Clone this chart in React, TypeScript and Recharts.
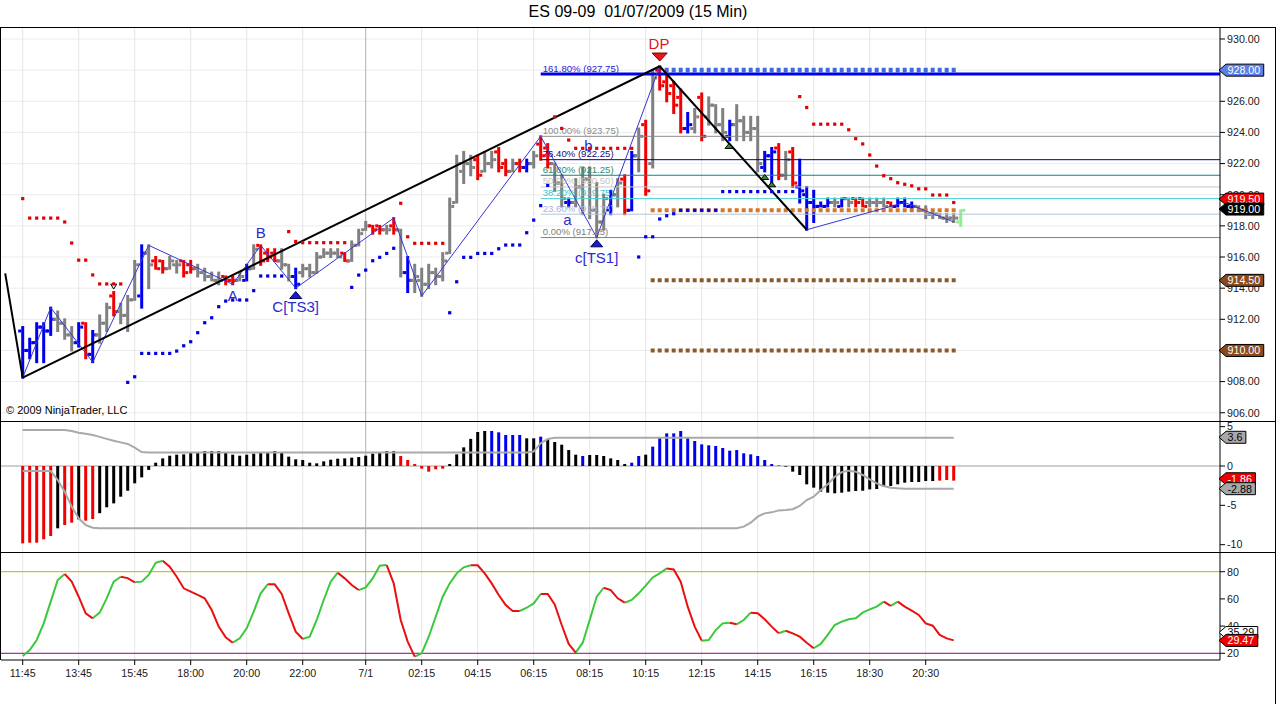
import React from 'react';
import { ComposedChart, Bar, Line, XAxis, YAxis, ReferenceLine, ReferenceDot, Cell } from 'recharts';

const FONT = "'Liberation Sans', Arial, sans-serif";

const chartTitle = 'ES 09-09  01/07/2009 (15 Min)';
const copyright = '\u00a9 2009 NinjaTrader, LLC';

const timeTicks = [0, 8, 16, 24, 32, 40, 49, 57, 65, 73, 81, 89, 97, 105, 113, 121, 129];
const timeLabels = ['11:45', '13:45', '15:45', '18:00', '20:00', '22:00', '7/1', '02:15', '04:15', '06:15', '08:15', '10:15', '12:15', '14:15', '16:15', '18:30', '20:30'];
const dayBreak = 49;

const priceTicks = [906, 908, 910, 912, 914, 916, 918, 920, 922, 924, 926, 928, 930];
const macdTicks = [5, 0, -5, -10];
const stochTicks = [20, 40, 60, 80];

const opens = [
  911.25, 910.0, 910.5, 911.5, 911.25, 912.0, 911.75, 911.0, 910.5, 911.75,
  909.75, 911.0, 911.75, 913.5, 912.5, 912.25, 913.25, 913.5, 916.25, 915.75,
  915.75, 915.25, 915.5, 915.75, 915.5, 915.25, 915.0, 914.75, 914.5, 914.75,
  914.5, 914.5, 914.5, 915.25, 916.75, 916.25, 916.25, 915.75, 915.5, 914.75,
  915.0, 915.25, 915.0, 916.0, 916.25, 916.25, 916.25, 915.75, 916.75, 917.75,
  918.0, 918.0, 917.75, 918.0, 917.75, 915.0, 914.5, 914.5, 914.25, 915.0,
  914.75, 916.25, 919.5, 921.5, 922.0, 922.25, 921.5, 922.0, 922.75, 922.0,
  921.5, 922.0, 921.75, 922.0, 923.25, 923.0, 922.0, 920.75, 919.5, 919.5,
  920.5, 921.0, 919.0, 918.25, 919.0, 920.0, 921.0, 919.0, 922.5, 924.5,
  922.0, 928.0, 927.25, 927.0, 926.25, 924.25, 924.25, 926.25, 925.0, 925.75,
  924.5, 923.75, 924.5, 924.75, 924.0, 924.25, 921.75, 922.5, 923.0, 921.25,
  922.75, 920.5, 920.0, 919.5, 919.25, 919.25, 919.5, 919.25, 919.75, 919.75,
  919.75, 919.5, 919.5, 919.5, 919.5, 919.25, 919.5, 919.25, 919.25, 919.0,
  918.75, 918.75, 918.5, 918.5, 918.25,
];
const highs = [
  911.5, 910.75, 911.75, 911.75, 912.75, 912.5, 912.0, 911.5, 911.75, 911.75,
  911.25, 912.25, 913.0, 913.75, 913.0, 913.5, 915.75, 916.75, 916.75, 916.0,
  915.75, 916.0, 915.75, 915.75, 915.75, 915.5, 915.25, 915.0, 915.0, 914.75,
  914.75, 915.0, 915.5, 916.75, 916.75, 916.5, 916.5, 916.5, 915.5, 915.25,
  915.5, 915.5, 916.25, 916.5, 916.5, 916.5, 916.25, 917.0, 917.75, 918.25,
  918.0, 918.0, 918.0, 918.5, 917.75, 916.0, 915.5, 915.25, 915.5, 915.25,
  916.25, 919.75, 922.5, 922.75, 922.5, 922.5, 922.75, 922.75, 923.0, 922.25,
  922.25, 922.25, 922.25, 922.75, 923.75, 923.25, 922.0, 921.25, 919.75, 921.0,
  921.75, 921.75, 920.75, 920.0, 920.25, 921.0, 921.25, 922.75, 924.25, 924.75,
  928.0, 928.25, 927.75, 927.25, 926.75, 925.25, 925.5, 926.5, 926.25, 925.75,
  925.5, 924.75, 925.75, 925.0, 925.0, 925.0, 922.75, 923.0, 923.25, 922.75,
  923.0, 922.25, 920.5, 920.25, 919.5, 919.75, 919.75, 919.75, 919.75, 919.75,
  919.75, 919.75, 919.75, 919.75, 919.5, 919.75, 919.75, 919.5, 919.25, 919.25,
  919.0, 918.75, 918.75, 918.75, 919.0,
];
const lows = [
  908.25, 909.5, 909.25, 909.25, 911.0, 911.25, 910.75, 910.0, 910.25, 909.5,
  909.25, 910.5, 911.25, 912.25, 911.75, 911.25, 913.25, 912.75, 914.0, 915.25,
  915.0, 915.25, 915.0, 914.75, 915.0, 914.75, 914.5, 914.5, 914.25, 914.25,
  914.25, 914.5, 914.5, 915.25, 915.5, 915.75, 915.75, 915.25, 914.5, 914.0,
  914.75, 914.75, 915.0, 916.0, 916.0, 916.0, 915.75, 915.75, 916.75, 917.75,
  917.5, 917.5, 917.5, 917.5, 914.75, 913.75, 913.75, 913.5, 914.0, 914.25,
  914.5, 916.25, 919.5, 920.75, 921.25, 921.0, 921.5, 921.75, 921.5, 921.25,
  921.5, 921.5, 921.5, 921.75, 922.25, 921.75, 920.25, 919.25, 919.25, 919.25,
  918.75, 918.5, 917.25, 917.75, 918.75, 919.25, 918.75, 919.0, 921.5, 920.0,
  921.75, 926.75, 926.0, 925.25, 924.0, 924.0, 924.0, 923.5, 924.5, 924.0,
  923.5, 923.5, 923.5, 923.5, 923.5, 921.5, 921.5, 920.75, 921.0, 921.0,
  920.5, 919.5, 917.75, 918.25, 919.25, 919.25, 919.25, 919.25, 919.25, 919.25,
  919.25, 919.25, 919.25, 919.25, 919.25, 919.25, 919.25, 919.0, 919.0, 918.5,
  918.5, 918.5, 918.25, 918.25, 918.0,
];
const closes = [
  910.0, 910.5, 911.5, 911.25, 912.0, 911.75, 911.0, 910.5, 911.5, 909.75,
  911.0, 911.75, 912.75, 912.5, 912.25, 913.25, 915.5, 916.25, 915.5, 915.25,
  915.25, 915.75, 915.5, 915.0, 915.25, 915.0, 914.75, 914.5, 914.5, 914.5,
  914.5, 914.75, 915.25, 916.5, 915.75, 916.0, 915.75, 915.5, 914.75, 914.25,
  915.25, 915.0, 916.0, 916.25, 916.25, 916.0, 915.75, 916.75, 917.5, 918.0,
  917.75, 917.75, 917.75, 917.75, 915.0, 914.5, 914.75, 914.25, 915.0, 914.75,
  915.75, 919.25, 922.0, 922.0, 921.75, 921.25, 922.0, 922.25, 921.75, 921.5,
  922.0, 921.75, 922.0, 922.5, 922.5, 922.0, 920.75, 919.75, 919.5, 920.5,
  921.0, 919.0, 918.25, 919.75, 920.0, 920.75, 919.0, 922.5, 923.75, 920.25,
  927.5, 927.0, 926.5, 925.75, 924.25, 924.5, 925.0, 923.75, 925.75, 924.5,
  924.0, 924.5, 924.75, 924.0, 924.25, 922.0, 922.5, 922.75, 921.25, 922.25,
  920.75, 920.25, 919.5, 919.25, 919.25, 919.5, 919.5, 919.75, 919.5, 919.5,
  919.25, 919.5, 919.5, 919.25, 919.25, 919.5, 919.25, 919.25, 919.0, 918.75,
  918.75, 918.5, 918.5, 918.5, 919.0,
];
// u = up trend bar, d = down trend bar, n = neutral, c = current (unfinished) bar
const barTrend = (
  'uuuuunnnud' + 'unndnnnund' + 'dnnddnnnnd' + 'dnundddnnu' + 'nnnnnndnnn' +
  'ddndnunnnn' + 'nnnnndnndd' + 'ndunddnnun' + 'nnnnundund' + 'nddddundnn' +
  'nunnnnuudn' + 'duuuuunund' + 'dnnnduuunn' + 'nnnnc'
).split('');

// trailing stop dots [bar index, price]
const upperStop: [number, number][] = [
  [0, 919.75], [1, 918.5], [2, 918.5], [3, 918.5], [4, 918.5], [5, 918.5], [6, 918.25], [7, 916.9],
  [8, 915.8], [9, 915.8], [10, 914.85], [11, 914.27], [12, 914.27], [13, 914.27], [14, 914.27],
  [38, 917.63], [39, 917.0], [40, 916.92], [41, 916.92], [42, 916.92], [43, 916.92], [44, 916.92], [45, 916.92], [46, 916.92],
  [54, 919.45], [55, 917.3], [56, 916.88], [57, 916.88], [58, 916.88], [59, 916.88], [60, 916.88],
  [76, 925.0], [77, 924.26], [78, 923.51], [79, 922.98], [80, 922.98], [81, 922.98], [82, 922.98], [83, 922.98],
  [84, 922.98], [85, 922.98], [86, 922.98], [87, 922.98],
  [111, 926.3], [112, 925.6], [113, 924.53], [114, 924.53], [115, 924.53], [116, 924.53], [117, 924.53],
  [118, 924.17], [119, 923.6], [120, 923.26], [121, 922.55], [122, 921.84], [123, 921.22], [124, 921.03],
  [125, 920.77], [126, 920.67], [127, 920.57], [128, 920.38], [129, 920.38], [130, 919.98], [131, 919.98],
  [132, 919.98], [133, 919.5],
];
const lowerStop: [number, number][] = [
  [15, 907.95], [16, 908.31], [17, 909.81], [18, 909.81], [19, 909.81], [20, 909.81], [21, 909.81],
  [22, 909.96], [23, 910.3], [24, 910.56], [25, 911.14], [26, 911.78], [27, 912.1], [28, 912.81],
  [29, 913.17], [30, 913.24], [31, 913.24], [32, 913.24], [33, 913.84], [34, 914.78], [35, 914.78],
  [36, 914.78], [37, 914.78],
  [47, 914.05], [48, 914.84], [49, 915.16], [50, 915.76], [51, 915.98], [52, 916.23], [53, 916.56],
  [61, 912.42], [62, 914.41], [63, 915.98], [64, 915.98], [65, 916.23], [66, 916.23], [67, 916.23],
  [68, 916.53], [69, 916.77], [70, 916.77], [71, 916.77], [72, 917.56], [73, 918.37], [74, 919.3], [75, 920.6],
  [88, 916.0], [89, 917.3], [90, 917.3], [91, 918.44], [92, 918.65], [93, 918.78], [94, 919.0], [95, 919.0],
  [96, 919.0], [97, 919.0], [98, 919.0], [99, 919.0], [100, 920.2], [101, 920.2], [102, 920.2], [103, 920.2],
  [104, 920.2], [105, 920.2], [106, 920.2], [107, 920.2], [108, 920.2], [109, 920.2], [110, 920.2],
];
const zigzagPivots: [number, number][] = [
  [0, 908.25], [4, 912.75], [10, 909.25], [18, 916.75], [30, 914.25], [34, 916.75], [39, 914.0],
  [53, 918.5], [57, 913.5], [74, 923.75], [82, 917.25], [91, 928.25], [112, 917.75], [126, 919.5], [133, 918.25],
];
const trendLines = [
  { from: [-2.5, 914.95], to: [0, 908.25] },
  { from: [0, 908.25], to: [91, 928.25] },
  { from: [91, 928.25], to: [112, 917.75] },
];
const fibStart = 74;
const fibLevels = [
  { pct: '161.80%', price: 927.75, line: '#0000f0', text: '#2323d8', width: 3 },
  { pct: '100.00%', price: 923.75, line: '#8c8c8c', text: '#8c8c8c', width: 1 },
  { pct: '76.40%', price: 922.25, line: '#000080', text: '#10107a', width: 1 },
  { pct: '61.80%', price: 921.25, line: '#008b8b', text: '#2e8b74', width: 1 },
  { pct: '50.00%', price: 920.5, line: '#c4c4c4', text: '#c4c4c4', width: 1 },
  { pct: '38.20%', price: 919.75, line: '#48d1d1', text: '#46c4cc', width: 1 },
  { pct: '23.60%', price: 918.75, line: '#b0c4de', text: '#a4b4da', width: 1 },
  { pct: '0.00%', price: 917.25, line: '#808080', text: '#808080', width: 1 },
];
const levelLines = [
  { price: 928.0, from: 92, to: 133, color: '#4169e1', width: 5 },
  { price: 919.0, from: 90, to: 133, color: '#d2782d', width: 4 },
  { price: 914.5, from: 90, to: 133, color: '#8b5a2b', width: 4 },
  { price: 910.0, from: 90, to: 133, color: '#8b5a2b', width: 4 },
];
const textMarks = [
  { i: 30, price: 913.55, text: 'A', color: '#2b2bd0' },
  { i: 34, price: 917.55, text: 'B', color: '#2b2bd0' },
  { i: 39, price: 912.8, text: 'C[TS3]', color: '#2b2bd0' },
  { i: 77.8, price: 918.4, text: 'a', color: '#2b2bd0' },
  { i: 80.8, price: 923.15, text: 'b', color: '#2b2bd0' },
  { i: 82, price: 915.98, text: 'c[TS1]', color: '#2b2bd0' },
  { i: 90.9, price: 929.72, text: 'DP', color: '#e01818' },
];
const triangleMarks = [
  { i: 39, price: 913.56, dir: 'up', w: 12, h: 7, fill: '#1a1ad0', stroke: '#00005a' },
  { i: 82, price: 916.88, dir: 'up', w: 12, h: 7, fill: '#1a1ad0', stroke: '#00005a' },
  { i: 91, price: 928.84, dir: 'down', w: 15, h: 8, fill: '#e81818', stroke: '#700000' },
  { i: 100.9, price: 923.13, dir: 'up', w: 8, h: 5, fill: '#2e8b2e', stroke: '#000' },
  { i: 106, price: 921.14, dir: 'up', w: 8, h: 5, fill: '#2e8b2e', stroke: '#000' },
  { i: 107, price: 920.67, dir: 'up', w: 8, h: 5, fill: '#2e8b2e', stroke: '#000' },
  { i: 13, price: 914.1, dir: 'down', w: 6, h: 5, fill: 'none', stroke: '#000' },
];
const priceBadges = [
  { pos: 928.0, text: '928.00', bg: '#5b7fe6', fg: '#ffffff' },
  { pos: 914.5, text: '914.50', bg: '#8b4a1e', fg: '#ffffff' },
  { pos: 910.0, text: '910.00', bg: '#8b4a1e', fg: '#ffffff' },
  { pos: 919.72, text: '919.50', bg: '#f00000', fg: '#ffffff' },
  { pos: 919.08, text: '919.00', bg: '#000000', fg: '#ffffff' },
];

const histogram = [
  -9.83, -9.75, -9.75, -9.32, -8.9, -7.92, -7.5, -7.2, -6.78, -6.95,
  -6.74, -6.0, -5.25, -4.75, -3.9, -3.14, -2.2, -1.44, -0.5, 0.42,
  0.97, 1.31, 1.44, 1.48, 1.65, 1.78, 1.9, 1.9, 1.9, 1.65,
  1.44, 1.31, 1.44, 1.57, 1.65, 1.78, 1.9, 1.78, 1.19, 0.85,
  0.76, 0.42, 0.34, 0.59, 0.8, 0.93, 0.97, 1.06, 1.14, 1.31,
  1.57, 1.74, 1.9, 1.9, 1.27, 0.76, 0.25, -0.34, -0.72, -0.42,
  -0.34, 0.25, 1.48, 2.37, 3.45, 4.32, 4.45, 4.45, 4.28, 3.94,
  3.94, 3.94, 3.52, 3.52, 3.73, 3.43, 3.05, 2.71, 2.03, 1.44,
  1.27, 1.4, 1.4, 1.27, 0.97, 0.76, 0.25, 0.42, 1.27, 1.44,
  2.46, 3.6, 4.15, 4.15, 4.45, 3.6, 3.18, 2.75, 2.63, 2.54,
  2.29, 1.95, 2.03, 1.61, 1.48, 1.27, 0.76, 0.25, 0.05, -0.08,
  -0.72, -1.14, -2.33, -2.75, -3.26, -3.39, -3.47, -3.39, -3.26, -3.18,
  -3.14, -2.97, -2.92, -2.63, -2.54, -2.33, -2.12, -2.03, -2.03, -1.91,
  -1.91, -1.86, -1.78, -1.86,
];
// r = red, k = black, b = blue histogram bars
const histState = (
  'rrrrrkrrkr' + 'rkkkkkkkkk' + 'kkkkkkkkkk' + 'kkkkkkkkkk' + 'kkkkkkkkkk' +
  'kkkkrrrrrr' + 'rkkkkkkbbb' + 'bbkkbkkkkk' + 'bkkkkkkbbk' + 'bbbbbbbbbb' +
  'bbbbbbbbkk' + 'kkkkkkkkkk' + 'kkkkkkkkkk' + 'krrr'
).split('');
const signalHigh = [
  4.58, 4.58, 4.58, 4.58, 4.58, 4.58, 4.58, 4.45, 4.24, 4.1,
  3.94, 3.7, 3.45, 3.22, 3.0, 2.8, 2.33, 1.78, 1.72, 1.72,
  1.72, 1.72, 1.72, 1.72, 1.72, 1.72, 1.72, 1.72, 1.72, 1.72,
  1.72, 1.72, 1.72, 1.72, 1.72, 1.72, 1.72, 1.72, 1.72, 1.72,
  1.72, 1.72, 1.72, 1.72, 1.72, 1.72, 1.72, 1.72, 1.72, 1.72,
  1.72, 1.72, 1.72, 1.72, 1.72, 1.72, 1.72, 1.72, 1.72, 1.72,
  1.72, 1.72, 1.72, 1.72, 1.72, 1.72, 1.72, 1.72, 1.72, 1.72,
  1.72, 1.72, 1.72, 1.85, 2.9, 3.43, 3.58, 3.58, 3.58, 3.58,
  3.58, 3.58, 3.58, 3.58, 3.58, 3.58, 3.58, 3.58, 3.58, 3.58,
  3.58, 3.58, 3.58, 3.58, 3.58, 3.58, 3.58, 3.58, 3.58, 3.58,
  3.58, 3.58, 3.58, 3.58, 3.58, 3.58, 3.58, 3.58, 3.58, 3.58,
  3.58, 3.58, 3.58, 3.58, 3.58, 3.58, 3.58, 3.58, 3.58, 3.58,
  3.58, 3.58, 3.58, 3.58, 3.58, 3.58, 3.58, 3.58, 3.58, 3.58,
  3.58, 3.58, 3.58, 3.58,
];
const signalLow = [
  -0.64, -0.64, -0.64, -0.64, -0.64, -1.78, -3.26, -5.17, -6.65, -7.5,
  -7.84, -7.92, -7.92, -7.92, -7.92, -7.92, -7.92, -7.92, -7.92, -7.92,
  -7.92, -7.92, -7.92, -7.92, -7.92, -7.92, -7.92, -7.92, -7.92, -7.92,
  -7.92, -7.92, -7.92, -7.92, -7.92, -7.92, -7.92, -7.92, -7.92, -7.92,
  -7.92, -7.92, -7.92, -7.92, -7.92, -7.92, -7.92, -7.92, -7.92, -7.92,
  -7.92, -7.92, -7.92, -7.92, -7.92, -7.92, -7.92, -7.92, -7.92, -7.92,
  -7.92, -7.92, -7.92, -7.92, -7.92, -7.92, -7.92, -7.92, -7.92, -7.92,
  -7.92, -7.92, -7.92, -7.92, -7.92, -7.92, -7.92, -7.92, -7.92, -7.92,
  -7.92, -7.92, -7.92, -7.92, -7.92, -7.92, -7.92, -7.92, -7.92, -7.92,
  -7.92, -7.92, -7.92, -7.92, -7.92, -7.92, -7.92, -7.92, -7.92, -7.92,
  -7.92, -7.92, -7.92, -7.71, -7.2, -6.44, -6.02, -5.89, -5.64, -5.59,
  -5.5, -5.08, -4.32, -3.9, -3.05, -2.33, -1.36, -0.8, -0.59, -0.72,
  -1.14, -1.69, -2.2, -2.54, -2.75, -2.84, -2.88, -2.88, -2.88, -2.88,
  -2.88, -2.88, -2.88, -2.88,
];
const macdBadges = [
  { pos: 3.65, text: '3.6', bg: '#a8a8a8', fg: '#000000' },
  { pos: -1.62, text: '-1.86', bg: '#f00000', fg: '#ffffff' },
  { pos: -2.88, text: '-2.88', bg: '#a8a8a8', fg: '#000000' },
];

const stoch = [
  18.0, 22.4, 29.8, 42, 58, 73.9, 78.3, 72.7, 61.6, 49.4,
  45.7, 49.9, 60.4, 72.7, 76.3, 75.3, 72.2, 72.7, 77.6, 86.6,
  88.1, 83.7, 76.3, 67.8, 65.3, 62.9, 60.4, 51.8, 39.6, 31.7,
  27.8, 31.0, 38.4, 50.6, 64.1, 70.7, 70.7, 63.6, 49.4, 35.9,
  30.5, 32.2, 44.5, 59.2, 72.7, 79.3, 75.1, 70.2, 66.5, 68.5,
  75.1, 84.4, 84.9, 71.4, 44.5, 28.6, 17.5, 20.0, 32.2, 46.9,
  61.6, 71.4, 78.8, 83.2, 84.7, 84.7, 78.8, 71.4, 62.9, 55.5,
  51.1, 51.1, 53.5, 56.7, 63.6, 63.6, 56.0, 40.8, 26.9, 20.5,
  27.8, 44.5, 61.6, 68.2, 66.5, 60.4, 57.2, 59.2, 64.1, 69.7,
  75.8, 78.8, 82.4, 81.7, 72.7, 54.3, 39.6, 29.3, 29.8, 37.1,
  42, 42.5, 41.3, 44.5, 49.9, 49.4, 45, 39.6, 34.7, 36.6,
  34.7, 32.2, 27.8, 23.7, 26.9, 33.5, 40.8, 43.3, 45, 45.7,
  49.9, 52.3, 54.3, 58, 54.8, 58, 54.3, 51.3, 48.2, 42,
  40.3, 33.5, 31.0, 29.5,
];
const stochBadges = [
  { pos: 35.3, text: '35.29', bg: '#ffffff', fg: '#000000' },
  { pos: 29.47, text: '29.47', bg: '#f00000', fg: '#ffffff' },
];

// ---------- derived table ----------
const XMIN = -3.1;
const XMAX = 171.04;
const PRICE_DOMAIN: [number, number] = [905.47, 930.77];
const MACD_DOMAIN: [number, number] = [-10.93, 5.72];
const STOCH_DOMAIN: [number, number] = [15.07, 94.49];

const rows: any[] = opens.map((o, i) => ({
  i,
  open: o,
  high: highs[i],
  low: lows[i],
  close: closes[i],
  trend: barTrend[i],
  hl: [lows[i], highs[i]],
  redStop: null,
  blueStop: null,
  zz: null,
  hist: i < histogram.length ? histogram[i] : null,
  hs: i < histState.length ? histState[i] : 'k',
  sigHi: i < signalHigh.length ? signalHigh[i] : null,
  sigLo: i < signalLow.length ? signalLow[i] : null,
  g0: null, g1: null, r0: null, r1: null,
}));
upperStop.forEach(([i, v]) => { rows[i].redStop = v; });
lowerStop.forEach(([i, v]) => { rows[i].blueStop = v; });
zigzagPivots.forEach(([i, v]) => { rows[i].zz = v; });
(() => {
  let prev = '';
  let key = '';
  const count: Record<string, number> = { g: 0, r: 0 };
  for (let k = 0; k < stoch.length - 1; k++) {
    const c = stoch[k + 1] > stoch[k] ? 'g' : 'r';
    if (c !== prev) {
      key = c + (count[c] % 2);
      count[c] += 1;
      prev = c;
    }
    rows[k][key] = stoch[k];
    rows[k + 1][key] = stoch[k + 1];
  }
})();

const trendColor: Record<string, string> = { u: '#0000f0', d: '#f00000', n: '#808080', c: '#90ee90' };
const histColor: Record<string, string> = { r: '#f00000', k: '#000000', b: '#0000f0' };

function OhlcShape(props: any) {
  const { x, y, width, height, payload } = props;
  if (payload == null || x == null || y == null) return <g />;
  const cx = x + width / 2;
  const top = Math.min(y, y + height);
  const bot = Math.max(y, y + height);
  const span = payload.high - payload.low;
  const yOf = (v: number) => (span > 0 ? top + ((payload.high - v) / span) * (bot - top) : top);
  const color = trendColor[payload.trend];
  const yo = yOf(payload.open);
  const yc = yOf(payload.close);
  return (
    <g>
      <rect x={cx - 1.5} y={top - 1} width={3} height={bot - top + 2} fill={color} />
      <rect x={cx - 4.5} y={yo - 1.5} width={3} height={3} fill={color} />
      <rect x={cx + 1.5} y={yc - 1.5} width={3} height={3} fill={color} />
    </g>
  );
}

const squareDot = (color: string, size: number) => (props: any) => {
  const { cx, cy, value, index } = props;
  if (value == null || cx == null || cy == null || Number.isNaN(cy)) return <g key={`e${index}`} />;
  return <rect key={`s${index}`} x={cx - size / 2} y={cy - size / 2} width={size} height={size} fill={color} />;
};

const textWidth = (t: string) => {
  let w = 0;
  for (const ch of t) w += ch === '.' ? 2.97 : ch === '-' ? 3.56 : 5.95;
  return w;
};

const badgeShape = (text: string, bg: string, fg: string) => (props: any) => {
  const { cx, cy } = props;
  if (cx == null || cy == null) return <g />;
  const w = 7 + textWidth(text) + 4;
  const h = 12;
  const pts = `${cx - 1},${cy} ${cx + 6},${cy - h / 2} ${cx + w},${cy - h / 2} ${cx + w},${cy + h / 2} ${cx + 6},${cy + h / 2}`;
  return (
    <g>
      <polygon points={pts} fill={bg} stroke="#000" strokeWidth={1} />
      <text x={cx + 7.5} y={cy + 4} fontSize={10.7} fontFamily={FONT} fill={fg}>{text}</text>
    </g>
  );
};

const textShape = (text: string, color: string) => (props: any) => {
  const { cx, cy } = props;
  if (cx == null || cy == null) return <g />;
  return (
    <text x={cx} y={cy + 5.5} textAnchor="middle" fontSize={15} fontFamily={FONT} fill={color}>{text}</text>
  );
};

const fibLabelShape = (text: string, color: string) => (props: any) => {
  const { cx, cy } = props;
  if (cx == null || cy == null) return <g />;
  return (
    <text x={cx + 2} y={cy - 2.5} fontSize={9.6} fontFamily={FONT} fill={color}>{text}</text>
  );
};

const triangleShape = (dir: string, w: number, h: number, fill: string, stroke: string) => (props: any) => {
  const { cx, cy } = props;
  if (cx == null || cy == null) return <g />;
  const pts = dir === 'up'
    ? `${cx},${cy - h / 2} ${cx - w / 2},${cy + h / 2} ${cx + w / 2},${cy + h / 2}`
    : `${cx - w / 2},${cy - h / 2} ${cx + w / 2},${cy - h / 2} ${cx},${cy + h / 2}`;
  return <polygon points={pts} fill={fill} stroke={stroke} strokeWidth={1} />;
};

const axisTick = { fontSize: 10.7, fill: '#202020', fontFamily: FONT };

function gridVertical(prefix: string) {
  return timeTicks.map((t) => (
    <ReferenceLine
      key={`${prefix}v${t}`}
      x={t}
      stroke={t === dayBreak ? '#b0b0b0' : '#e6e6e6'}
      strokeWidth={1}
      zIndex={-90}
    />
  ));
}

function PriceChart() {
  return (
    <ComposedChart width={1280} height={394} data={rows} margin={{ top: 0, right: 0, bottom: 0, left: 1 }}>
      <XAxis type="number" dataKey="i" domain={[XMIN, XMAX]} allowDataOverflow hide />
      <YAxis
        orientation="right"
        domain={PRICE_DOMAIN}
        allowDataOverflow
        ticks={priceTicks}
        interval={0}
        width={60}
        tickFormatter={(v: number) => v.toFixed(2)}
        tickSize={5}
        tickMargin={2}
        axisLine={{ stroke: '#000' }}
        tickLine={{ stroke: '#000' }}
        tick={axisTick}
      />
      {priceTicks.map((t) => (
        <ReferenceLine key={`ph${t}`} y={t} stroke="#ececec" strokeWidth={1} zIndex={-90} />
      ))}
      {gridVertical('p')}
      <Bar dataKey="hl" barSize={3} shape={OhlcShape} isAnimationActive={false} />
      <Line dataKey="redStop" stroke="none" dot={squareDot('#e00000', 3.2)} activeDot={false} legendType="none" isAnimationActive={false} />
      <Line dataKey="blueStop" stroke="none" dot={squareDot('#0000e0', 3.2)} activeDot={false} legendType="none" isAnimationActive={false} />
      {fibLevels.map((f) => (
        <ReferenceLine
          key={`fl${f.pct}`}
          segment={[{ x: fibStart, y: f.price }, { x: XMAX, y: f.price }]}
          stroke={f.line}
          strokeWidth={f.width}
          zIndex={410}
        />
      ))}
      {levelLines.map((l) => (
        <ReferenceLine
          key={`lv${l.price}`}
          segment={[{ x: l.from - 0.29, y: l.price }, { x: l.to + 0.29, y: l.price }]}
          stroke={l.color}
          strokeWidth={l.width}
          strokeDasharray="4 3"
          zIndex={420}
        />
      ))}
      <Line dataKey="zz" stroke="#3535d5" strokeWidth={1} dot={false} activeDot={false} connectNulls isAnimationActive={false} zIndex={430} />
      {trendLines.map((t, k) => (
        <ReferenceLine
          key={`tl${k}`}
          segment={[{ x: t.from[0], y: t.from[1] }, { x: t.to[0], y: t.to[1] }]}
          stroke="#000"
          strokeWidth={2}
          zIndex={440}
        />
      ))}
      {fibLevels.map((f) => (
        <ReferenceDot
          key={`ft${f.pct}`}
          x={fibStart}
          y={f.price}
          r={0}
          ifOverflow="visible"
          shape={fibLabelShape(`${f.pct} (${f.price.toFixed(2)})`, f.text)}
          zIndex={450}
        />
      ))}
      {triangleMarks.map((m, k) => (
        <ReferenceDot
          key={`tr${k}`}
          x={m.i}
          y={m.price}
          r={0}
          ifOverflow="visible"
          shape={triangleShape(m.dir, m.w, m.h, m.fill, m.stroke)}
          zIndex={460}
        />
      ))}
      {textMarks.map((m, k) => (
        <ReferenceDot
          key={`tx${k}`}
          x={m.i}
          y={m.price}
          r={0}
          ifOverflow="visible"
          shape={textShape(m.text, m.color)}
          zIndex={470}
        />
      ))}
      {priceBadges.map((b, k) => (
        <ReferenceDot
          key={`pb${k}`}
          x={XMAX}
          y={b.pos}
          r={0}
          ifOverflow="visible"
          shape={badgeShape(b.text, b.bg, b.fg)}
          zIndex={2100 + k}
        />
      ))}
    </ComposedChart>
  );
}

function MacdChart() {
  return (
    <ComposedChart width={1280} height={131} data={rows} margin={{ top: 0, right: 0, bottom: 0, left: 1 }}>
      <XAxis type="number" dataKey="i" domain={[XMIN, XMAX]} allowDataOverflow hide />
      <YAxis
        orientation="right"
        domain={MACD_DOMAIN}
        allowDataOverflow
        ticks={macdTicks}
        interval={0}
        width={60}
        tickFormatter={(v: number) => String(v)}
        tickSize={5}
        tickMargin={2}
        axisLine={{ stroke: '#000' }}
        tickLine={{ stroke: '#000' }}
        tick={axisTick}
      />
      {gridVertical('m')}
      <ReferenceLine y={0} stroke="#a0a0a0" strokeWidth={1} zIndex={-80} />
      <Bar dataKey="hist" barSize={3} isAnimationActive={false}>
        {rows.map((r) => (
          <Cell key={`c${r.i}`} fill={histColor[r.hs]} />
        ))}
      </Bar>
      <Line dataKey="sigHi" stroke="#a9a9a9" strokeWidth={2} dot={false} activeDot={false} isAnimationActive={false} />
      <Line dataKey="sigLo" stroke="#a9a9a9" strokeWidth={2} dot={false} activeDot={false} isAnimationActive={false} />
      {macdBadges.map((b, k) => (
        <ReferenceDot
          key={`mb${k}`}
          x={XMAX}
          y={b.pos}
          r={0}
          ifOverflow="visible"
          shape={badgeShape(b.text, b.bg, b.fg)}
          zIndex={2100 + k}
        />
      ))}
    </ComposedChart>
  );
}

function StochChart() {
  return (
    <ComposedChart width={1280} height={152} data={rows} margin={{ top: 0, right: 0, bottom: 0, left: 1 }}>
      <XAxis
        type="number"
        dataKey="i"
        domain={[XMIN, XMAX]}
        allowDataOverflow
        ticks={timeTicks}
        interval={0}
        height={44}
        tickFormatter={(v: number) => timeLabels[timeTicks.indexOf(v)] ?? ''}
        tickSize={5}
        tickMargin={4}
        axisLine={{ stroke: '#000' }}
        tickLine={{ stroke: '#000' }}
        tick={axisTick}
      />
      <YAxis
        orientation="right"
        domain={STOCH_DOMAIN}
        allowDataOverflow
        ticks={stochTicks}
        interval={0}
        width={60}
        tickFormatter={(v: number) => String(v)}
        tickSize={5}
        tickMargin={2}
        axisLine={{ stroke: '#000' }}
        tickLine={{ stroke: '#000' }}
        tick={axisTick}
      />
      {gridVertical('s')}
      <ReferenceLine y={80} stroke="#b4b800" strokeWidth={1} zIndex={-80} />
      <ReferenceLine y={20} stroke="#8e0090" strokeWidth={1} zIndex={-80} />
      <Line dataKey="g0" stroke="#3cc83c" strokeWidth={2} dot={false} activeDot={false} isAnimationActive={false} />
      <Line dataKey="g1" stroke="#3cc83c" strokeWidth={2} dot={false} activeDot={false} isAnimationActive={false} />
      <Line dataKey="r0" stroke="#e81010" strokeWidth={2} dot={false} activeDot={false} isAnimationActive={false} />
      <Line dataKey="r1" stroke="#e81010" strokeWidth={2} dot={false} activeDot={false} isAnimationActive={false} />
      {stochBadges.map((b, k) => (
        <ReferenceDot
          key={`sb${k}`}
          x={XMAX}
          y={b.pos}
          r={0}
          ifOverflow="visible"
          shape={badgeShape(b.text, b.bg, b.fg)}
          zIndex={2100 + k}
        />
      ))}
    </ComposedChart>
  );
}

const line = (left: number, top: number, width: number, height: number): React.CSSProperties => ({
  position: 'absolute', left, top, width, height, background: '#000',
});

export default function App() {
  return (
    <div style={{ position: 'absolute', left: 0, top: 0, width: 1280, height: 704, background: '#fff', overflow: 'hidden', fontFamily: FONT }}>
      <div style={{ position: 'absolute', left: 0, top: 2, width: 1276, textAlign: 'center', fontSize: 16, lineHeight: '20px', whiteSpace: 'pre', color: '#000' }}>
        {chartTitle}
      </div>
      <div style={{ position: 'absolute', left: 0, top: 27 }}>
        <PriceChart />
      </div>
      <div style={{ position: 'absolute', left: 0, top: 421 }}>
        <MacdChart />
      </div>
      <div style={{ position: 'absolute', left: 0, top: 552 }}>
        <StochChart />
      </div>
      <div style={{ position: 'absolute', left: 6, top: 404, fontSize: 11, lineHeight: '13px', color: '#000', whiteSpace: 'pre' }}>
        {copyright}
      </div>
      <div style={line(0, 27, 1276, 1)} />
      <div style={line(0, 27, 1, 633)} />
      <div style={line(1275, 27, 1, 677)} />
      <div style={line(0, 421, 1276, 1)} />
      <div style={line(0, 552, 1276, 1)} />
    </div>
  );
}
